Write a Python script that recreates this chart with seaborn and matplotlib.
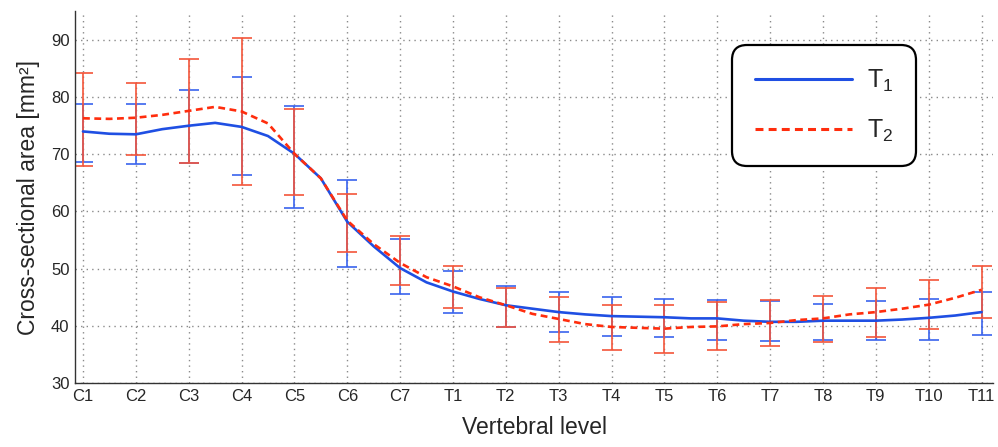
import numpy as np
import pandas as pd
import matplotlib
matplotlib.use('Agg')
import matplotlib.pyplot as plt
import seaborn as sns

# vertebral levels on the x axis
levels = ['C1', 'C2', 'C3', 'C4', 'C5', 'C6', 'C7',
          'T1', 'T2', 'T3', 'T4', 'T5', 'T6', 'T7', 'T8', 'T9', 'T10', 'T11']

# error bar ends (mean +/- sd) read per level, in mm^2
t1_upper = [78.8, 78.8, 81.3, 83.5, 78.5, 65.5, 55.2, 49.6, 47.0,
            46.0, 45.0, 44.7, 44.6, 44.3, 43.9, 44.3, 44.7, 45.9]
t1_lower = [68.6, 68.3, 68.4, 66.4, 60.6, 50.3, 45.5, 42.3, 39.8,
            38.9, 38.2, 38.0, 37.6, 37.4, 37.6, 37.5, 37.6, 38.4]
t2_upper = [84.2, 82.5, 86.6, 90.3, 77.9, 63.1, 55.7, 50.4, 46.6,
            45.0, 43.6, 43.6, 44.1, 44.6, 45.3, 46.6, 48.1, 50.5]
t2_lower = [68.0, 69.9, 68.4, 64.6, 62.8, 53.0, 47.1, 43.2, 39.8,
            37.1, 35.8, 35.3, 35.7, 36.5, 37.1, 38.1, 39.4, 41.4]

# mean curves, read every half level (C1, C1.5, C2, ... T11)
t1_curve = [74.0, 73.6, 73.5, 74.4, 75.0, 75.5, 74.8, 73.2, 70.1, 65.8,
            58.2, 53.9, 50.1, 47.6, 46.0, 44.7, 43.6, 43.0, 42.4, 42.0,
            41.7, 41.6, 41.5, 41.3, 41.3, 40.9, 40.7, 40.7, 40.9, 40.9,
            40.9, 41.1, 41.4, 41.8, 42.4]
t2_curve = [76.3, 76.2, 76.4, 76.9, 77.6, 78.3, 77.5, 75.4, 70.1, 65.8,
            58.4, 54.3, 51.0, 48.5, 46.9, 45.0, 43.6, 42.1, 41.2, 40.3,
            39.8, 39.65, 39.5, 39.8, 39.9, 40.3, 40.5, 41.0, 41.3, 42.0,
            42.4, 43.0, 43.7, 44.9, 46.3]

sns.set_style('white')
plt.rcParams['font.family'] = ['Liberation Sans', 'DejaVu Sans']
plt.rcParams['mathtext.fontset'] = 'custom'
plt.rcParams['mathtext.rm'] = 'Liberation Sans'
plt.rcParams['mathtext.it'] = 'Liberation Sans:italic'

lab1 = 'T$_\\mathregular{1}$'
lab2 = 'T$_\\mathregular{2}$'

pos = np.arange(1, len(levels) + 1)
curve_pos = np.arange(len(t1_curve)) / 2 + 1
df = pd.concat([
    pd.DataFrame({'pos': curve_pos, 'area': t1_curve, 'scan': lab1}),
    pd.DataFrame({'pos': curve_pos, 'area': t2_curve, 'scan': lab2}),
])

fig = plt.figure(figsize=(9.98, 4.47), dpi=100)
ax = fig.add_axes([0.0752, 0.1432, 0.92, 0.8313])

for up, lo, col in [(t1_upper, t1_lower, '#3a63ee'), (t2_upper, t2_lower, '#f4553a')]:
    up = np.array(up)
    lo = np.array(lo)
    ax.errorbar(pos, (up + lo) / 2, yerr=(up - lo) / 2, fmt='none', ecolor=col,
                elinewidth=1.2, capsize=7.2, capthick=1.2, zorder=2)

sns.lineplot(data=df, x='pos', y='area', hue='scan', style='scan',
             palette={lab1: '#1f4fe3', lab2: '#ff2d0d'},
             dashes={lab1: '', lab2: (2.6, 1.7)},
             linewidth=1.9, ax=ax, zorder=3)

ax.set_xlim(0.85, 18.22)
ax.set_ylim(30, 95)
ax.set_xticks(pos)
ax.set_xticklabels(levels)
ax.set_yticks(np.arange(30, 91, 10))
ax.tick_params(direction='in', length=5, width=1, color='#333333',
               labelsize=12, pad=4)
ax.grid(True, linestyle=(0, (1, 3)), color='#8a8a8a', linewidth=1)
for s in ['top', 'right']:
    ax.spines[s].set_visible(False)
for s in ['left', 'bottom']:
    ax.spines[s].set_color('#333333')
    ax.spines[s].set_linewidth(1)

ax.set_xlabel('Vertebral level', fontsize=16.5, labelpad=9)
ax.set_ylabel('Cross-sectional area [mm²]', fontsize=16.5, labelpad=8)

handles, labels = ax.get_legend_handles_labels()
leg = ax.legend(handles, labels, loc='upper left', bbox_to_anchor=(0.716, 0.909),
                borderaxespad=0, fontsize=18, handlelength=3.9, handletextpad=0.6,
                labelspacing=0.95, borderpad=0.9, frameon=True, fancybox=True,
                framealpha=1, edgecolor='black')
leg.get_frame().set_linewidth(1.6)
leg.get_frame().set_boxstyle('round', pad=0, rounding_size=0.6)
for line in leg.get_lines():
    line.set_linewidth(2.2)

fig.savefig('out.png', dpi=100)
plt.close(fig)
